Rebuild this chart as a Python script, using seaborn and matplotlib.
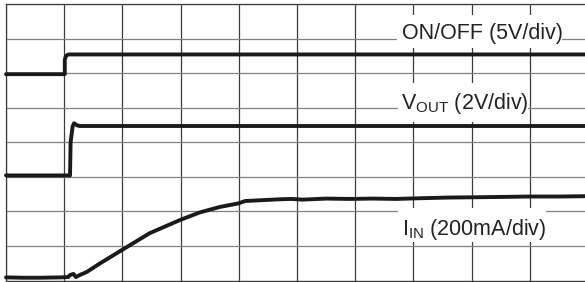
import numpy as np
import pandas as pd
import seaborn as sns
import matplotlib
import matplotlib.pyplot as plt
from matplotlib.patches import Rectangle

matplotlib.use('Agg')

# traces in scope divisions (x: 0-10, y: 0-8)
onoff_x = [0.0, 1.01, 1.01, 1.03, 1.07, 10.0]
onoff_y = [5.97, 5.97, 6.38, 6.50, 6.54, 6.54]

vout_x = [0.0, 1.10, 1.11, 1.145, 1.17, 1.22, 1.27, 10.0]
vout_y = [3.04, 3.04, 4.00, 4.46, 4.55, 4.49, 4.47, 4.47]

iin_x = [0.0, 0.30, 0.58, 0.93, 1.07, 1.10, 1.16, 1.20, 1.27, 1.39, 1.62, 1.99,
         2.47, 2.99, 3.33, 3.68, 3.99, 4.11, 4.71, 4.90, 5.10, 5.50, 5.91,
         6.30, 6.70, 7.11, 7.60, 8.14, 8.60, 9.00, 9.50, 10.0]
iin_y = [0.09, 0.08, 0.08, 0.09, 0.10, 0.16, 0.19, 0.10, 0.16, 0.25, 0.50, 0.88,
         1.37, 1.75, 1.97, 2.13, 2.23, 2.30, 2.35, 2.36, 2.34, 2.37, 2.36,
         2.37, 2.36, 2.38, 2.40, 2.41, 2.42, 2.43, 2.43, 2.44]

labels = ['ON/OFF (5V/div)', r'V$_{\mathregular{OUT}}$ (2V/div)', r'I$_{\mathregular{IN}}$ (200mA/div)']

sns.set_theme(style='white')
plt.rcParams['font.family'] = ['Liberation Sans', 'DejaVu Sans']
plt.rcParams['mathtext.fontset'] = 'custom'
plt.rcParams['mathtext.rm'] = 'Liberation Sans'

fig = plt.figure(figsize=(5.85, 2.82), dpi=100)
ax = fig.add_axes([6 / 585, 1.5 / 282, 582 / 585, 276.5 / 282])

trace = '#1a1a1a'
for xs, ys in [(onoff_x, onoff_y), (vout_x, vout_y), (iin_x, iin_y)]:
    df = pd.DataFrame({'t': xs, 'v': ys})
    sns.lineplot(data=df, x='t', y='v', ax=ax, sort=False, estimator=None,
                 color=trace, lw=2.8, zorder=3, clip_on=False)

ax.set_xlim(0, 10)
ax.set_ylim(0, 8)
ax.set_xticks(np.arange(0, 11))
ax.set_yticks(np.arange(0, 9))
ax.set_xticklabels([])
ax.set_yticklabels([])
ax.tick_params(length=0)
ax.set_xlabel('')
ax.set_ylabel('')
ax.set_axisbelow(True)
ax.xaxis.grid(True, color='#3c3c3c', lw=0.9)
ax.yaxis.grid(True, color='#808080', lw=0.9)
for s in ax.spines.values():
    s.set_color('#3c3c3c')
    s.set_linewidth(0.9)

# white label areas that break the grid
boxes = [(6.72, 6.73, 9.55, 7.68), (6.74, 4.59, 8.97, 5.71), (6.74, 1.11, 9.28, 2.10)]
for x0, y0, x1, y1 in boxes:
    ax.add_patch(Rectangle((x0, y0), x1 - x0, y1 - y0, facecolor='white',
                           edgecolor='none', zorder=1.5))

label_pos = [(8.18, 7.00), (7.88, 4.97), (8.04, 1.32)]
for txt, (lx, ly) in zip(labels, label_pos):
    ax.text(lx, ly, txt, ha='center', va='baseline', fontsize=15.5,
            color='#222222', zorder=4)

fig.savefig('out.png', dpi=100)
